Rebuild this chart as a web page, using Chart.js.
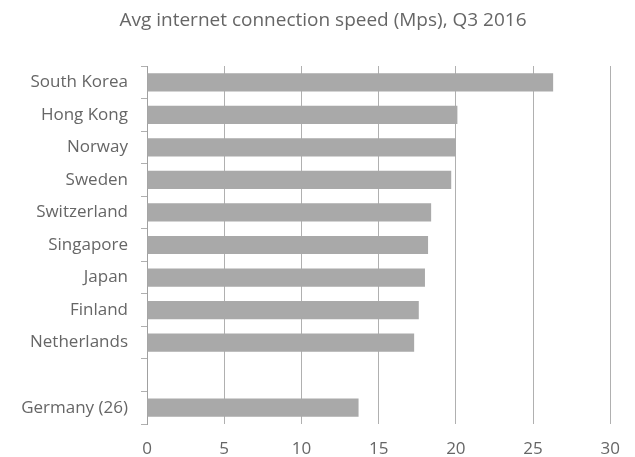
<!DOCTYPE html>
<html>
<head>
<meta charset="utf-8">
<script src="https://cdn.jsdelivr.net/npm/chart.js@4.4.0/dist/chart.umd.min.js"></script>
<style>
  html,body{margin:0;padding:0;background:#fff;}
  #wrap{width:635px;height:457px;position:relative;}
</style>
</head>
<body>
<div id="wrap"><canvas id="chart" width="635" height="457"></canvas></div>
<script>
const chartTitle = 'Avg internet connection speed (Mps), Q3 2016';
const countries  = ['South Korea','Hong Kong','Norway','Sweden','Switzerland','Singapore','Japan','Finland','Netherlands','','Germany (26)'];
const speeds     = [26.3, 20.1, 20.0, 19.7, 18.4, 18.2, 18.0, 17.6, 17.3, null, 13.7];
const xTicks     = [0, 5, 10, 15, 20, 25, 30];

const FONT = "'Open Sans', sans-serif";
const TXT  = '#666';

// title sits a little right of the canvas centre in the original, so draw it by hand
const titlePlugin = {
  id: 'offsetTitle',
  afterDraw(chart){
    const ctx = chart.ctx;
    ctx.save();
    ctx.font = `19px ${FONT}`;
    ctx.fillStyle = TXT;
    ctx.textAlign = 'center';
    ctx.textBaseline = 'middle';
    ctx.fillText(chartTitle, 323, 21);
    ctx.restore();
  }
};

new Chart(document.getElementById('chart'), {
  type: 'bar',
  data: {
    labels: countries,
    datasets: [{
      data: speeds,
      backgroundColor: '#a9a9a9',
      borderWidth: 0,
      barPercentage: 0.56,
      categoryPercentage: 1
    }]
  },
  options: {
    indexAxis: 'y',
    responsive: false,
    animation: false,
    layout: { padding: { left: 0, right: 24, top: 66, bottom: 0 } },
    plugins: {
      legend: { display: false },
      tooltip: { enabled: false },
      title: { display: false }
    },
    scales: {
      x: {
        min: 0, max: 30,
        afterBuildTicks: axis => { axis.ticks = xTicks.map(v => ({ value: v })); },
        afterFit: axis => { axis.height = 33; },
        grid: { color: '#b0b0b0', lineWidth: 1, drawTicks: false },
        border: { display: false },
        ticks: { color: TXT, padding: 15, font: { family: FONT, size: 17 } }
      },
      y: {
        afterFit: axis => { axis.width = 147; },
        grid: { drawOnChartArea: false, drawTicks: true, tickLength: 6, color: '#b0b0b0', offset: true },
        border: { display: true, color: '#a0a0a0', width: 1 },
        ticks: { color: TXT, padding: 13, font: { family: FONT, size: 17 } }
      }
    }
  },
  plugins: [titlePlugin]
});
</script>
</body>
</html>
